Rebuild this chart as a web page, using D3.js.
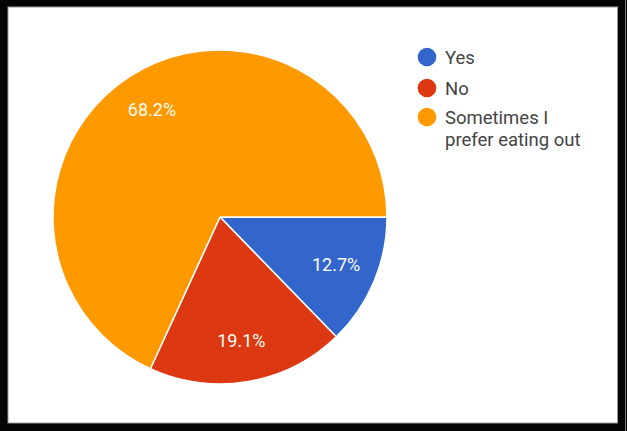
<!DOCTYPE html>
<html lang="en">
<head>
    <meta charset="UTF-8">
    <title>Pie chart</title>
    <script src="https://d3js.org/d3.v7.min.js"></script>
    <style>
        html, body {
            margin: 0;
            padding: 0;
            background: #000;
        }

        svg {
            display: block;
            font-family: Roboto, Arial, sans-serif;
        }

        .slice-label {
            fill: #fdfdf8;
            font-size: 18px;
        }

        .legend text {
            fill: #444;
            font-size: 18.5px;
        }
    </style>
</head>
<body>
    <svg class="chart"></svg>

    <script>
        // Respuestas (conteos)
        const categories = ["Yes", "No", "Sometimes I prefer eating out"];
        const counts = [20, 30, 107];
        const colors = ["#3366cc", "#dc3912", "#ff9900"];
        const legendLines = [["Yes"], ["No"], ["Sometimes I", "prefer eating out"]];

        const W = 627, H = 431;

        const svg = d3.select(".chart")
            .attr("width", W)
            .attr("height", H);

        // marco negro con zona blanca
        svg.append("rect").attr("width", W).attr("height", H).attr("fill", "#050505");
        svg.append("rect")
            .attr("x", 8).attr("y", 7)
            .attr("width", 609.5).attr("height", 416)
            .attr("fill", "#fff")
            .attr("stroke", "#9a9a9a")
            .attr("stroke-width", 1);
        svg.append("line")
            .attr("x1", 625.5).attr("x2", 625.5)
            .attr("y1", 0).attr("y2", H)
            .attr("stroke", "#777").attr("stroke-width", 1);

        const total = d3.sum(counts);
        const data = categories.map((c, i) => ({ name: c, value: counts[i], color: colors[i] }));

        const cx = 220, cy = 217, radius = 167;

        const pie = d3.pie()
            .sort(null)
            .value(d => d.value)
            .startAngle(Math.PI / 2)
            .endAngle(Math.PI / 2 + 2 * Math.PI);

        const arc = d3.arc().innerRadius(0).outerRadius(radius);
        const labelArc = d3.arc().innerRadius(126).outerRadius(126);

        const g = svg.append("g").attr("transform", `translate(${cx},${cy})`);

        g.selectAll("path")
            .data(pie(data))
            .enter().append("path")
            .attr("d", arc)
            .attr("fill", d => d.data.color)
            .attr("stroke", "#fff")
            .attr("stroke-width", 1.5)
            .attr("stroke-linejoin", "round");

        g.selectAll(".slice-label")
            .data(pie(data))
            .enter().append("text")
            .attr("class", "slice-label")
            .attr("transform", d => `translate(${labelArc.centroid(d)})`)
            .attr("text-anchor", "middle")
            .attr("dy", "0.3em")
            .text(d => (d.data.value / total * 100).toFixed(1) + "%");

        // Leyenda
        const legendY = [57, 88, 117];
        const legend = svg.append("g").attr("class", "legend");

        const items = legend.selectAll("g")
            .data(data)
            .enter().append("g")
            .attr("transform", (d, i) => `translate(427,${legendY[i]})`);

        items.append("circle")
            .attr("r", 9.3)
            .attr("fill", d => d.color);

        items.append("text")
            .attr("x", 18)
            .attr("y", 6.5)
            .each(function(d, i) {
                const t = d3.select(this);
                legendLines[i].forEach((line, j) => {
                    t.append("tspan")
                        .attr("x", 18)
                        .attr("dy", j === 0 ? 0 : 22)
                        .text(line);
                });
            });
    </script>
</body>
</html>
